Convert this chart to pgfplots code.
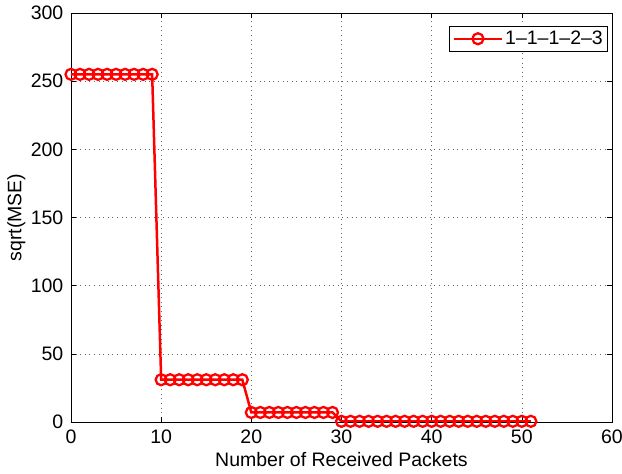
\documentclass[border=0pt]{standalone}
\usepackage{fontspec}
\setmainfont{Liberation Sans}
\usepackage{pgfplots}
\pgfplotsset{compat=1.18}
\begin{document}
\fontsize{19.5}{22}\selectfont
\begin{tikzpicture}
\path[use as bounding box] (-71pt,-52pt) rectangle (551pt,422pt);
\begin{axis}[
  at={(0pt,0pt)}, anchor=south west,
  scale only axis, width=541pt, height=409pt,
  xmin=0, xmax=60, ymin=0, ymax=300,
  xtick={0,10,...,60}, ytick={0,50,...,300},
  /pgf/number format/assume math mode=true,
  tick label style={font=\fontsize{19.5}{22}\selectfont},
  label style={font=\fontsize{19.5}{22}\selectfont},
  xlabel={Number of Received Packets},
  ylabel={sqrt(MSE)},
  xlabel style={at={(axis description cs:0.5,0)}, anchor=north, yshift=-24pt},
  ylabel style={at={(axis description cs:0,0.5)}, anchor=south, yshift=39pt},
  grid=major,
  major grid style={black!60, line width=0.6pt, dash pattern=on 0.6pt off 4pt},
  tick align=inside, tick pos=both,
  major tick length=5pt,
  axis line style={line width=0.8pt},
  every tick/.style={black, line width=0.6pt},
  xticklabel style={yshift=-1pt},
  yticklabel style={xshift=-1pt},
  legend style={at={(0.993,0.968)}, anchor=north east, draw=black, line width=0.8pt,
    font=\fontsize{19.5}{22}\selectfont, inner xsep=3pt, inner ysep=2pt},
  legend cell align=left,
  legend image code/.code={
    \draw[#1, mark=none] (0pt,0pt) -- (48pt,0pt);
    \draw[#1, only marks] plot coordinates {(24pt,0pt)};
  },
]
\addplot[red, line width=2.5pt, mark=o, mark size=5.5pt, mark options={line width=2.3pt, fill=none}]
coordinates {
(0,255)(1,255)(2,255)(3,255)(4,255)(5,255)(6,255)(7,255)(8,255)(9,255)
(10,31)(11,31)(12,31)(13,31)(14,31)(15,31)(16,31)(17,31)(18,31)(19,31)
(20,7)(21,7)(22,7)(23,7)(24,7)(25,7)(26,7)(27,7)(28,7)(29,7)
(30,0.5)(31,0.5)(32,0.5)(33,0.5)(34,0.5)(35,0.5)(36,0.5)(37,0.5)(38,0.5)(39,0.5)
(40,0.5)(41,0.5)(42,0.5)(43,0.5)(44,0.5)(45,0.5)(46,0.5)(47,0.5)(48,0.5)(49,0.5)
(50,0.5)(51,0.5)
};
\addlegendentry{1\textendash1\textendash1\textendash2\textendash3}
\end{axis}
\end{tikzpicture}
\end{document}
